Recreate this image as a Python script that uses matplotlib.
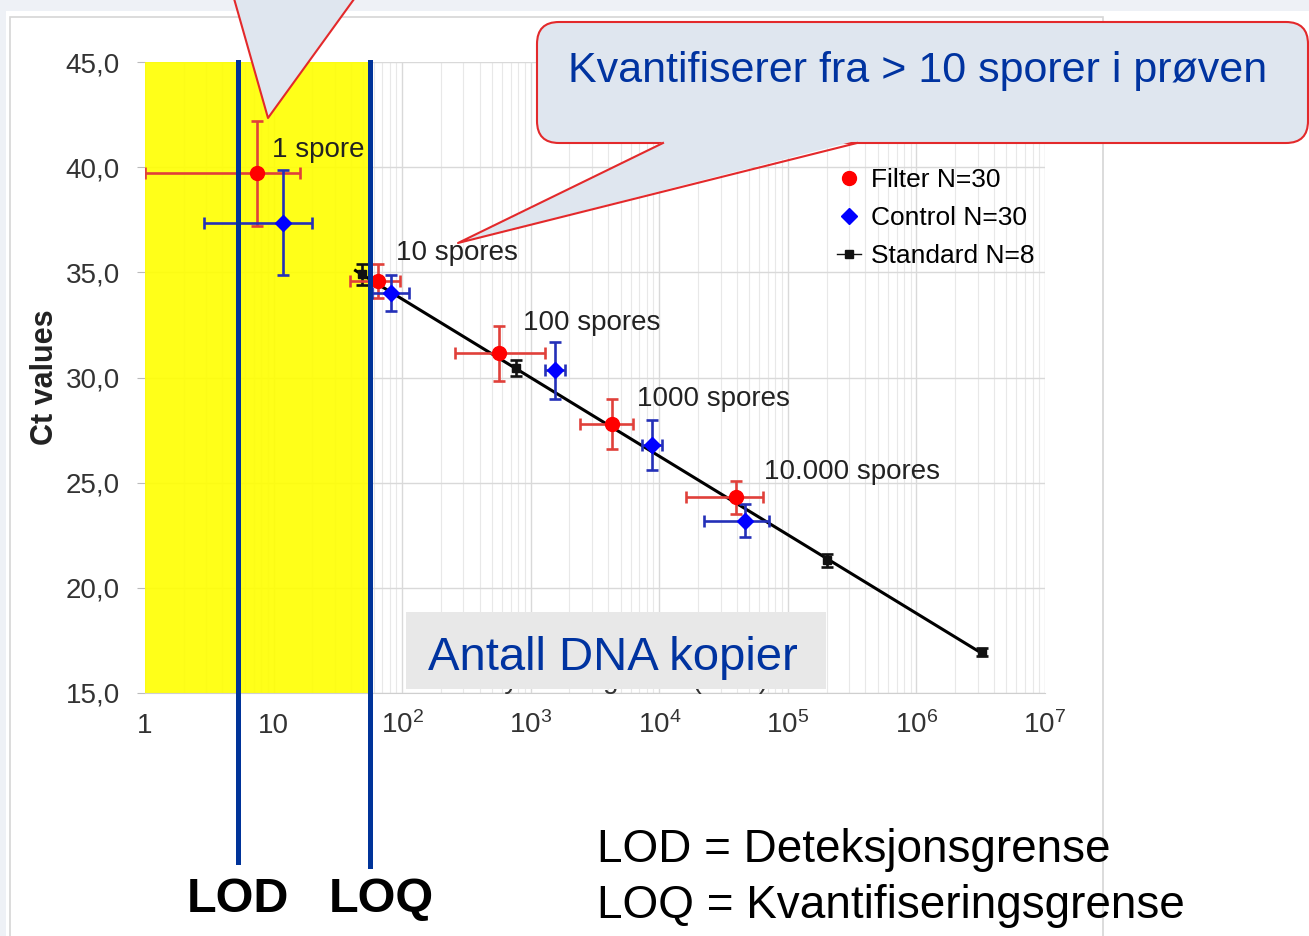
"""qPCR standard curve slide: Ct values vs. DNA copies with LOD / LOQ marks."""

import numpy as np
import matplotlib
matplotlib.use("Agg")
import matplotlib.pyplot as plt
from matplotlib.patches import Rectangle, FancyBboxPatch, Polygon
from matplotlib.lines import Line2D
from matplotlib.transforms import IdentityTransform
from matplotlib.ticker import FixedLocator, FixedFormatter, LogLocator, NullFormatter

plt.rcParams["font.family"] = ["Liberation Sans", "DejaVu Sans"]
plt.rcParams["mathtext.fontset"] = "custom"
plt.rcParams["mathtext.rm"] = "Liberation Sans"
plt.rcParams["mathtext.it"] = "Liberation Sans:italic"

W, H = 1309, 936

# filter samples (red)
filter_x = [7.4, 65, 566, 4270, 39400]
filter_xlo = [1.0, 39, 257, 2415, 16100]
filter_xhi = [16, 96, 1290, 6240, 64000]
filter_ct = [39.7, 34.6, 31.15, 27.8, 24.3]
filter_err = [2.5, 0.8, 1.3, 1.2, 0.8]

# control samples (blue)
control_x = [11.8, 82, 1540, 8750, 46300]
control_xlo = [2.9, 58, 1290, 7300, 22200]
control_xhi = [19.9, 113, 1850, 10500, 71100]
control_ct = [37.35, 34.0, 30.35, 26.8, 23.2]
control_err = [2.5, 0.85, 1.35, 1.2, 0.8]

# standard dilution series (black)
std_x = [48.7, 767, 201000, 3.22e6]
std_ct = [34.9, 30.45, 21.3, 16.95]
std_err = [0.5, 0.4, 0.3, 0.2]

spore_labels = ["1 spore", "10 spores", "100 spores", "1000 spores", "10.000 spores"]
spore_label_x = [9.7, 89.5, 870, 6700, 65000]
spore_label_y = [40.8, 35.9, 32.6, 29.0, 25.5]

lod_x = 5.3
loq_x = 56

x_ticks = [1, 10, 1e2, 1e3, 1e4, 1e5, 1e6, 1e7]
x_tick_labels = ["1", "10", "$10^2$", "$10^3$", "$10^4$", "$10^5$", "$10^6$", "$10^7$"]
y_ticks = [15, 20, 25, 30, 35, 40, 45]
y_tick_labels = ["15,0", "20,0", "25,0", "30,0", "35,0", "40,0", "45,0"]

BLUE_TXT = "#0033a0"
BLUE_LINE = "#003399"
RED_EDGE = "#e3292b"
CALLOUT = "#dfe6ef"

fig = plt.figure(figsize=(W / 100, H / 100), dpi=100, facecolor="white")
px = IdentityTransform()


def ypix(py):
    return H - py


# slide background bands and chart image frame
fig.add_artist(Rectangle((0, ypix(11)), W, 11, transform=px, facecolor="#eef1f6", edgecolor="none", zorder=0.1))
fig.add_artist(Rectangle((0, 0), 6, H, transform=px, facecolor="#eef1f6", edgecolor="none", zorder=0.1))
fig.add_artist(Rectangle((10, -5), 1093, ypix(17) + 5, transform=px, facecolor="none",
                         edgecolor="#d6d6d6", lw=1.2, zorder=0.2))

ax = fig.add_axes([145 / W, 1 - 693 / H, 900 / W, 631 / H])
ax.set_facecolor("white")
ax.set_xscale("log")
ax.set_xlim(1, 1e7)
ax.set_ylim(15, 45)

# yellow sits just above the grid, slightly see-through so the grid shows faintly
ax.axvspan(1, loq_x, color="#ffff00", alpha=0.9, zorder=0.6, lw=0)

ax.xaxis.set_major_locator(FixedLocator(x_ticks))
ax.xaxis.set_major_formatter(FixedFormatter(x_tick_labels))
ax.xaxis.set_minor_locator(LogLocator(base=10, subs=np.arange(2, 10), numticks=20))
ax.xaxis.set_minor_formatter(NullFormatter())
ax.yaxis.set_major_locator(FixedLocator(y_ticks))
ax.yaxis.set_major_formatter(FixedFormatter(y_tick_labels))

ax.set_axisbelow(True)
ax.grid(which="major", color="#d9d9d9", lw=1.0)
ax.grid(which="minor", axis="x", color="#e8e8e8", lw=0.8)

for side in ["top", "right", "left"]:
    ax.spines[side].set_visible(False)
ax.spines["bottom"].set_color("#cfcfcf")

ax.tick_params(axis="y", length=6, color="#bbbbbb", pad=12, labelsize=20, labelcolor="#333333")
ax.tick_params(axis="x", which="major", length=0, pad=29, labelsize=20, labelcolor="#333333")
ax.tick_params(axis="x", which="minor", length=0)
for lab in ax.get_xticklabels():
    lab.set_verticalalignment("baseline")

ax.set_ylabel("Ct values", fontsize=22, fontweight="bold", color="#222222")
ax.yaxis.set_label_coords(-0.094, 0.5)

# axis title, mostly covered by the slide's text box
ax.text(0.506, 0.008, "Colony forming units (CFU)", transform=ax.transAxes, ha="center",
        va="baseline", fontsize=20, color="#333333")

# fitted standard curve
coef = np.polyfit(np.log10(std_x), std_ct, 1)
fit_x = np.logspace(np.log10(min(std_x)) - 0.05, np.log10(max(std_x)), 50)
ax.plot(fit_x, np.polyval(coef, np.log10(fit_x)), color="black", lw=2.2, zorder=2)

fx = np.array(filter_x)
cx = np.array(control_x)
ax.errorbar(filter_x, filter_ct, yerr=filter_err,
            xerr=[fx - np.array(filter_xlo), np.array(filter_xhi) - fx],
            fmt="o", color="#ff0000", ms=10, ecolor="#e0403a", elinewidth=1.9, capsize=4, capthick=1.9, zorder=4)
ax.errorbar(control_x, control_ct, yerr=control_err,
            xerr=[cx - np.array(control_xlo), np.array(control_xhi) - cx],
            fmt="D", color="#0000ff", ms=8, ecolor="#2430b8", elinewidth=1.9, capsize=4, capthick=1.9, zorder=4)
ax.errorbar(std_x, std_ct, yerr=std_err, fmt="s", color="#111111", ms=6,
            elinewidth=1.9, capsize=4, capthick=1.9, zorder=3)

for lab, lx, ly in zip(spore_labels, spore_label_x, spore_label_y):
    ax.text(lx, ly, lab, fontsize=20, color="#222222", ha="left", va="center", zorder=5)

handles = [
    Line2D([], [], marker="o", color="#ff0000", ls="none", ms=10),
    Line2D([], [], marker="D", color="#0000ff", ls="none", ms=8),
    Line2D([], [], marker="s", color="#111111", ls="-", lw=1, ms=6),
]
ax.legend(handles, ["Filter N=30", "Control N=30", "Standard N=8"], loc="upper left",
          bbox_to_anchor=(0.757, 0.848), frameon=False, fontsize=19, handlelength=0.9,
          handletextpad=0.4, labelspacing=0.52, borderaxespad=0)

# LOD / LOQ vertical lines running below the axes
for lx, low in [(lod_x, -0.268), (loq_x, -0.274)]:
    ax.axvline(lx, ymin=low, ymax=1.0, color=BLUE_LINE, lw=3.6, clip_on=False, zorder=6)

# slide text box over the x-axis title
fig.add_artist(Rectangle((406, ypix(689)), 420, 77, transform=px, facecolor="#e8e8e8",
                         edgecolor="none", zorder=5))
fig.text(613, ypix(670), "Antall DNA kopier", transform=px, ha="center", va="baseline",
         fontsize=34, color=BLUE_TXT, zorder=6)

# callout pointing at the "1 spore" point (body off the top of the slide)
fig.add_artist(Polygon([(233, ypix(-5)), (268, ypix(118)), (357, ypix(-5))], closed=True,
                       transform=px, facecolor=CALLOUT, edgecolor="none", zorder=7))
fig.add_artist(Line2D([233, 268, 357], [ypix(-5), ypix(118), ypix(-5)], transform=px,
                      color=RED_EDGE, lw=1.5, zorder=8))

# callout about quantification
fig.add_artist(FancyBboxPatch((537, ypix(143)), 771, 121, boxstyle="round,pad=0,rounding_size=22",
                              transform=px, facecolor=CALLOUT, edgecolor=RED_EDGE, lw=1.5, zorder=7))
fig.add_artist(Polygon([(665, ypix(141)), (458, ypix(243)), (855, ypix(141))], closed=True,
                       transform=px, facecolor=CALLOUT, edgecolor="none", zorder=8))
fig.add_artist(Line2D([663, 458, 857], [ypix(143), ypix(243), ypix(143)], transform=px,
                      color=RED_EDGE, lw=1.5, zorder=9))
fig.text(568, ypix(82), "Kvantifiserer fra > 10 sporer i prøven", transform=px, ha="left",
         va="baseline", fontsize=31, color=BLUE_TXT, zorder=10)

# labels under the limit lines and the explanation text
fig.text(238, ypix(912), "LOD", transform=px, ha="center", va="baseline", fontsize=35,
         fontweight="bold", color="black")
fig.text(381, ypix(912), "LOQ", transform=px, ha="center", va="baseline", fontsize=35,
         fontweight="bold", color="black")
fig.text(597, ypix(862), "LOD = Deteksjonsgrense", transform=px, ha="left", va="baseline",
         fontsize=33, color="black")
fig.text(597, ypix(918), "LOQ = Kvantifiseringsgrense", transform=px, ha="left", va="baseline",
         fontsize=33, color="black")

fig.savefig("out.png", dpi=100, facecolor="white")
